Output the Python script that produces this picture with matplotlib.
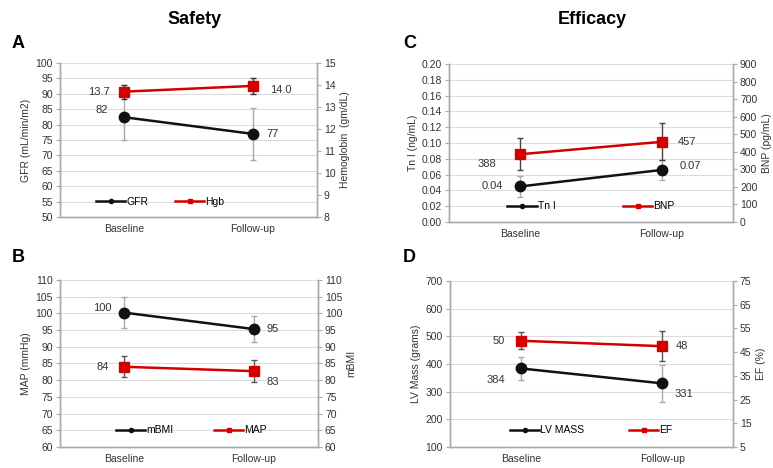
import matplotlib
matplotlib.use("Agg")
import matplotlib.pyplot as plt
from matplotlib.lines import Line2D

plt.rcParams['font.family'] = ['Liberation Sans', 'DejaVu Sans']

categories = ["Baseline", "Follow-up"]

# Panel A
gfr = [82.4, 77.0]
gfr_err = [7.5, 8.4]
gfr_lbl = ["82", "77"]
hgb = [13.7, 13.96]
hgb_err = [0.32, 0.36]
hgb_lbl = ["13.7", "14.0"]

# Panel B
mbmi = [100.2, 95.3]
mbmi_err = [4.6, 3.9]
mbmi_lbl = ["100", "95"]
mapv = [84.0, 82.7]
map_err = [3.2, 3.2]
map_lbl = ["84", "83"]

# Panel C
tni = [0.045, 0.066]
tni_err = [0.013, 0.013]
tni_lbl = ["0.04", "0.07"]
bnp = [386, 457]
bnp_err = [90, 106]
bnp_lbl = ["388", "457"]

# Panel D
lvmass = [384, 330]
lv_err = [42, 66]
lv_lbl = ["384", "331"]
ef = [49.8, 47.5]
ef_err = [3.5, 6.3]
ef_lbl = ["50", "48"]

BLACK = "#111111"
RED = "#d40000"
GRID = "#dcdcdc"
SPINE = "#aaaaaa"
FS = 7.5

fig = plt.figure(figsize=(7.73, 4.68), dpi=100)


def panel(rect, left_lim, left_ticks, left_fmt, left_label,
          right_lim, right_ticks, right_fmt, right_label,
          black, black_err, black_lbl, black_name, black_axis, black_offsets, black_errcol,
          red, red_err, red_lbl, red_name, red_axis, red_offsets, red_errcol,
          leg_x, colsp):
    ax = fig.add_axes(rect)
    ax2 = ax.twinx()
    x = list(range(len(categories)))
    for a, lim, ticks, fmt in ((ax, left_lim, left_ticks, left_fmt), (ax2, right_lim, right_ticks, right_fmt)):
        a.set_ylim(*lim)
        a.set_yticks(ticks)
        a.set_yticklabels([fmt.format(t) for t in ticks], fontsize=FS, color="#333333")
        a.tick_params(axis='y', length=3, width=0.8, color=SPINE, pad=2)
        a.spines['top'].set_visible(False)
        for s in ('left', 'right', 'bottom'):
            a.spines[s].set_color(SPINE)
            a.spines[s].set_linewidth(1.0)
    ax.set_xlim(-0.5, 1.5)
    ax.set_xticks(x)
    ax.set_xticklabels(categories, fontsize=FS, color="#333333")
    ax.tick_params(axis='x', length=0, pad=5)
    ax.yaxis.grid(True, color=GRID, linewidth=0.8)
    ax.set_axisbelow(True)
    ax.set_ylabel(left_label, fontsize=FS, color="#333333", labelpad=3)
    ax2.set_ylabel(right_label, fontsize=FS, color="#333333", labelpad=3)

    axes = {'left': ax, 'right': ax2}
    ab = axes[black_axis]
    ar = axes[red_axis]
    ab.errorbar(x, black, yerr=black_err, color=BLACK, ecolor=black_errcol, elinewidth=1.0,
                capsize=2.5, marker='o', markersize=7.5, linewidth=1.8, zorder=3)
    ar.errorbar(x, red, yerr=red_err, color=RED, ecolor=red_errcol, elinewidth=1.0,
                capsize=2.5, marker='s', markersize=7.5, linewidth=1.8, zorder=3)
    for i in x:
        ab.annotate(black_lbl[i], (x[i], black[i]), xytext=black_offsets[i], textcoords='offset points',
                    ha='center', va='center', fontsize=FS + 0.5, color="#333333")
        ar.annotate(red_lbl[i], (x[i], red[i]), xytext=red_offsets[i], textcoords='offset points',
                    ha='center', va='center', fontsize=FS + 0.5, color="#333333")
    handles = [Line2D([], [], color=BLACK, marker='o', markersize=3, linewidth=1.8),
               Line2D([], [], color=RED, marker='s', markersize=3, linewidth=1.8)]
    ax.legend(handles, [black_name, red_name], loc='center', bbox_to_anchor=(leg_x, 0.1), ncol=2,
              frameon=False, fontsize=FS, handlelength=2.8, handletextpad=0.1, columnspacing=colsp)
    return ax


panel([0.0776, 0.5363, 0.3325, 0.329],
      (50, 100), list(range(50, 101, 5)), "{:d}", "GFR (mL/min/m2)",
      (8, 15), list(range(8, 16)), "{:d}", "Hemoglobin  (gm/dL)",
      gfr, gfr_err, gfr_lbl, "GFR", 'left', [(-16, 5), (14, 0)], "#aaaaaa",
      hgb, hgb_err, hgb_lbl, "Hgb", 'right', [(-18, 0), (20, -3)], "#333333",
      0.39, 2.6)

panel([0.0776, 0.0449, 0.3338, 0.357],
      (60, 110), list(range(60, 111, 5)), "{:d}", "MAP (mmHg)",
      (60, 110), list(range(60, 111, 5)), "{:d}", "mBMI",
      mbmi, mbmi_err, mbmi_lbl, "mBMI", 'right', [(-16, 3), (14, 0)], "#aaaaaa",
      mapv, map_err, map_lbl, "MAP", 'left', [(-16, 0), (14, -8)], "#555555",
      0.51, 3.9)

panel([0.5809, 0.5256, 0.3674, 0.3376],
      (0, 0.2), [i * 0.02 for i in range(11)], "{:.2f}", "Tn I (ng/mL)",
      (0, 900), list(range(0, 901, 100)), "{:d}", "BNP (pg/mL)",
      tni, tni_err, tni_lbl, "Tn I", 'left', [(-20, 0), (20, 3)], "#aaaaaa",
      bnp, bnp_err, bnp_lbl, "BNP", 'right', [(-24, -7), (18, 0)], "#444444",
      0.50, 6.5)

panel([0.5821, 0.0449, 0.366, 0.3547],
      (100, 700), list(range(100, 701, 100)), "{:d}", "LV Mass (grams)",
      (5, 75), list(range(5, 76, 10)), "{:d}", "EF (%)",
      lvmass, lv_err, lv_lbl, "LV MASS", 'left', [(-18, -8), (16, -8)], "#aaaaaa",
      ef, ef_err, ef_lbl, "EF", 'right', [(-16, 0), (14, 0)], "#555555",
      0.50, 4.3)

fig.text(195 / 773, 1 - 20 / 468, "Safety", fontsize=13, fontweight='bold', ha='center', va='center')
fig.text(592 / 773, 1 - 20 / 468, "Efficacy", fontsize=13, fontweight='bold', ha='center', va='center')
for lbl, xp, yp in (("A", 12, 44), ("B", 12, 257), ("C", 403, 44), ("D", 403, 257)):
    fig.text(xp / 773, 1 - yp / 468, lbl, fontsize=13, fontweight='bold', ha='left', va='center')

fig.savefig("out.png", dpi=100)
